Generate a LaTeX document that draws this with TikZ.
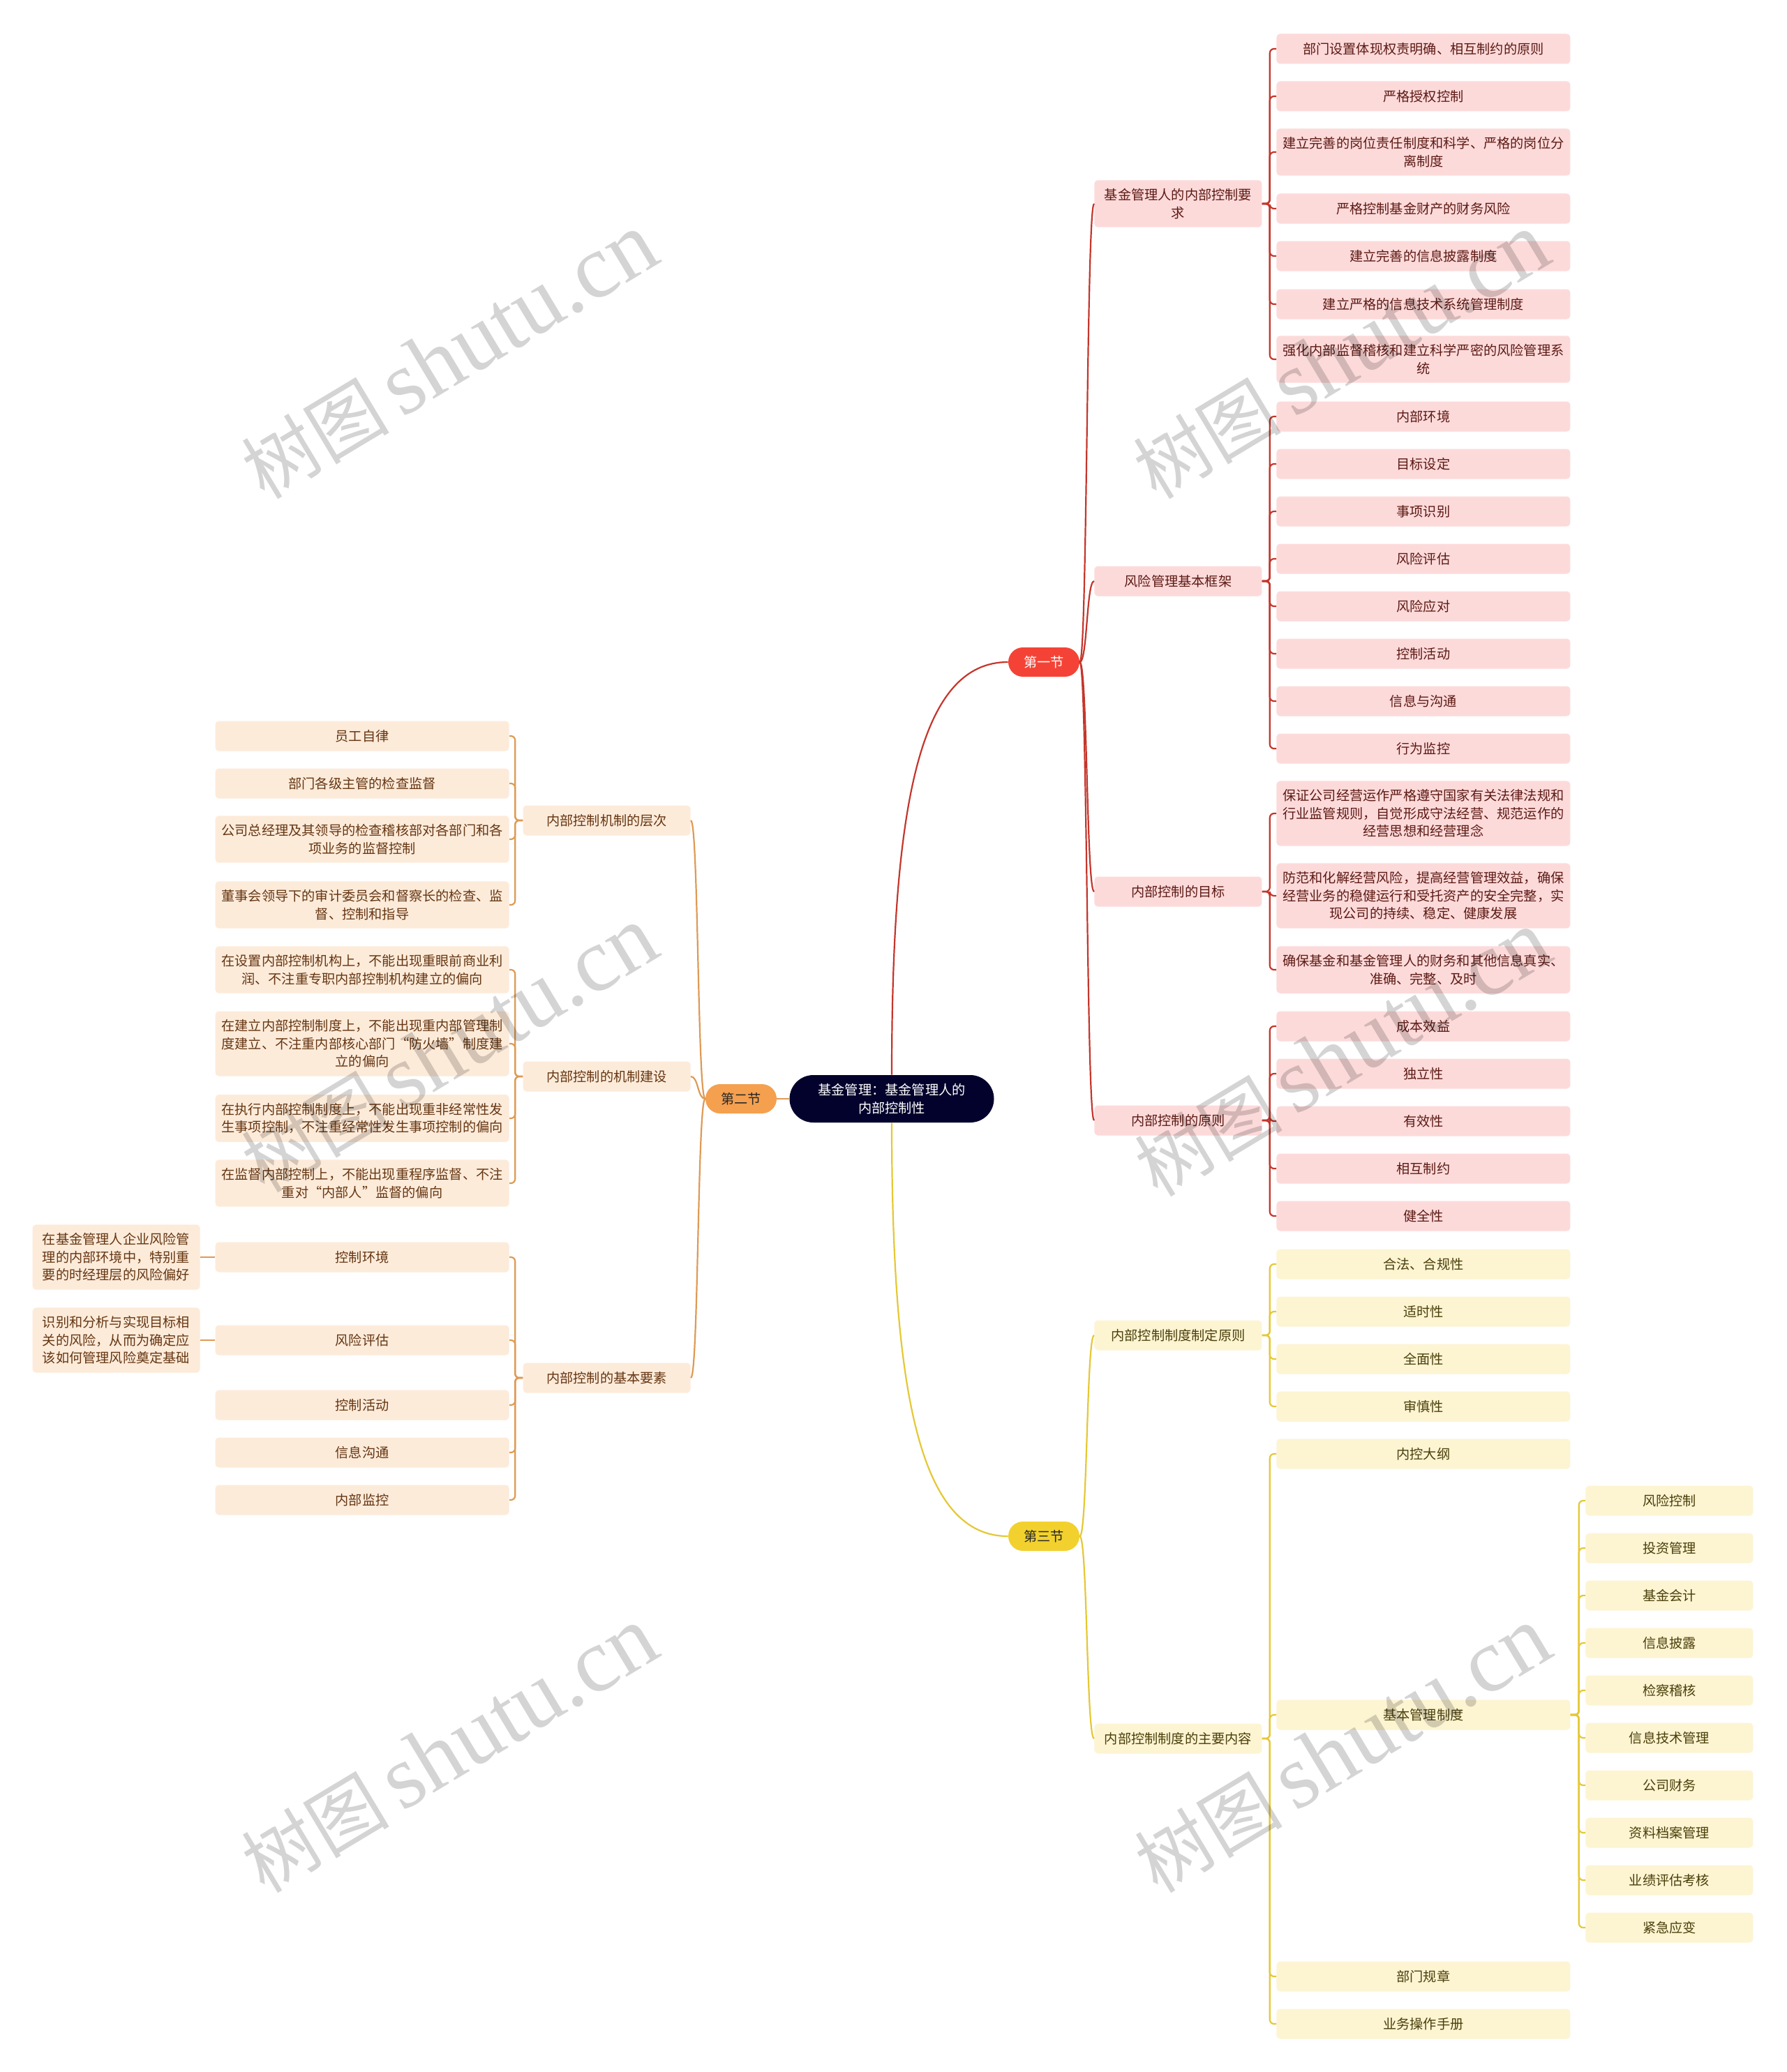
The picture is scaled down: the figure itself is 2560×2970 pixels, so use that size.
\documentclass[tikz,border=0pt]{standalone}
\usepackage{fontspec}
\setmainfont{Noto Sans CJK SC}
\newfontfamily\wmserif{Liberation Serif}
\usetikzlibrary{shapes.misc}
\definecolor{rootfill}{HTML}{02022C}
\definecolor{redfill}{HTML}{F44336}
\definecolor{redline}{HTML}{C4362C}
\definecolor{redbox}{HTML}{FDDADA}
\definecolor{redtext}{HTML}{5C1A14}
\definecolor{orfill}{HTML}{F5A04F}
\definecolor{orline}{HTML}{DE9A55}
\definecolor{orbox}{HTML}{FDEBDA}
\definecolor{ortext}{HTML}{653612}
\definecolor{yefill}{HTML}{F2D12E}
\definecolor{yeline}{HTML}{E5C835}
\definecolor{yebox}{HTML}{FDF4D2}
\definecolor{yetext}{HTML}{4A3F0A}
\tikzset{
  basebox/.style={font=\fontsize{9.6}{12.8}\selectfont, align=center, inner xsep=4pt, inner ysep=6pt, minimum height=21.5pt, rounded corners=2.5pt},
  rbox/.style={basebox, fill=redbox, text=redtext},
  obox/.style={basebox, fill=orbox, text=ortext},
  ybox/.style={basebox, fill=yebox, text=yetext},
  wtwo/.style={minimum width=120pt},
  wleaf/.style={minimum width=210.5pt},
  wfour/.style={minimum width=120pt},
  pill/.style={rounded rectangle, font=\fontsize{9.6}{12.8}\selectfont, align=center, inner xsep=4pt, inner ysep=5pt},
  rootbox/.style={pill, fill=rootfill, text=white, minimum width=154.5pt, minimum height=34pt},
  secbox/.style={pill, minimum width=59pt, minimum height=21pt},
  rl/.style={draw=redline, line width=1.1pt, rounded corners=3pt},
  ol/.style={draw=orline, line width=1.1pt, rounded corners=3pt},
  yl/.style={draw=yeline, line width=1.1pt, rounded corners=3pt},
  wm/.style={text=black, opacity=0.17, inner sep=0pt, font=\fontsize{53}{60}\selectfont, rotate=31}
}
\begin{document}
\begin{tikzpicture}[x=0.5pt,y=-0.5pt]
\useasboundingbox (0,0) rectangle (2560,2970);
\fill[white] (0,0) rectangle (2560,2970);

% root and sections
\node[rootbox] (root) at (1278,1575) {基金管理：基金管理人的\\内部控制性};
\node[secbox, fill=redfill, text=white] (s1) at (1496,949) {第一节};
\node[secbox, fill=orfill, text=black!85] (s2) at (1062,1575) {第二节};
\node[secbox, fill=yefill, text=black!85] (s3) at (1496,2202) {第三节};

% section 1 level 2
\node[rbox,wtwo,anchor=west] (ra) at (1568,292) {基金管理人的内部控制要\\求};
\node[rbox,wtwo,anchor=west] (rb) at (1568,833) {风险管理基本框架};
\node[rbox,wtwo,anchor=west] (rc) at (1568,1278) {内部控制的目标};
\node[rbox,wtwo,anchor=west] (rd) at (1568,1606) {内部控制的原则};

% section 1 leaves
\node[rbox,wleaf,anchor=west] (a1) at (1829,70) {部门设置体现权责明确、相互制约的原则};
\node[rbox,wleaf,anchor=west] (a2) at (1829,138) {严格授权控制};
\node[rbox,wleaf,anchor=west] (a3) at (1829,218) {建立完善的岗位责任制度和科学、严格的岗位分\\离制度};
\node[rbox,wleaf,anchor=west] (a4) at (1829,299) {严格控制基金财产的财务风险};
\node[rbox,wleaf,anchor=west] (a5) at (1829,367) {建立完善的信息披露制度};
\node[rbox,wleaf,anchor=west] (a6) at (1829,436) {建立严格的信息技术系统管理制度};
\node[rbox,wleaf,anchor=west] (a7) at (1829,515) {强化内部监督稽核和建立科学严密的风险管理系\\统};

\node[rbox,wleaf,anchor=west] (b1) at (1829,597) {内部环境};
\node[rbox,wleaf,anchor=west] (b2) at (1829,665) {目标设定};
\node[rbox,wleaf,anchor=west] (b3) at (1829,733) {事项识别};
\node[rbox,wleaf,anchor=west] (b4) at (1829,801) {风险评估};
\node[rbox,wleaf,anchor=west] (b5) at (1829,869) {风险应对};
\node[rbox,wleaf,anchor=west] (b6) at (1829,937) {控制活动};
\node[rbox,wleaf,anchor=west] (b7) at (1829,1005) {信息与沟通};
\node[rbox,wleaf,anchor=west] (b8) at (1829,1073) {行为监控};

\node[rbox,wleaf,anchor=west] (c1) at (1829,1166) {保证公司经营运作严格遵守国家有关法律法规和\\行业监管规则，自觉形成守法经营、规范运作的\\经营思想和经营理念};
\node[rbox,wleaf,anchor=west] (c2) at (1829,1284) {防范和化解经营风险，提高经营管理效益，确保\\经营业务的稳健运行和受托资产的安全完整，实\\现公司的持续、稳定、健康发展};
\node[rbox,wleaf,anchor=west] (c3) at (1829,1390) {确保基金和基金管理人的财务和其他信息真实、\\准确、完整、及时};

\node[rbox,wleaf,anchor=west] (d1) at (1829,1471) {成本效益};
\node[rbox,wleaf,anchor=west] (d2) at (1829,1539) {独立性};
\node[rbox,wleaf,anchor=west] (d3) at (1829,1607) {有效性};
\node[rbox,wleaf,anchor=west] (d4) at (1829,1675) {相互制约};
\node[rbox,wleaf,anchor=west] (d5) at (1829,1743) {健全性};

% section 3
\node[ybox,wtwo,anchor=west] (re) at (1568,1914) {内部控制制度制定原则};
\node[ybox,wtwo,anchor=west] (rf) at (1568,2492) {内部控制制度的主要内容};

\node[ybox,wleaf,anchor=west] (e1) at (1829,1812) {合法、合规性};
\node[ybox,wleaf,anchor=west] (e2) at (1829,1880) {适时性};
\node[ybox,wleaf,anchor=west] (e3) at (1829,1948) {全面性};
\node[ybox,wleaf,anchor=west] (e4) at (1829,2016) {审慎性};

\node[ybox,wleaf,anchor=west] (f1) at (1829,2084) {内控大纲};
\node[ybox,wleaf,anchor=west] (f2) at (1829,2458) {基本管理制度};
\node[ybox,wleaf,anchor=west] (f3) at (1829,2833) {部门规章};
\node[ybox,wleaf,anchor=west] (f4) at (1829,2901) {业务操作手册};

\node[ybox,wfour,anchor=west] (g1) at (2272,2151) {风险控制};
\node[ybox,wfour,anchor=west] (g2) at (2272,2219) {投资管理};
\node[ybox,wfour,anchor=west] (g3) at (2272,2287) {基金会计};
\node[ybox,wfour,anchor=west] (g4) at (2272,2355) {信息披露};
\node[ybox,wfour,anchor=west] (g5) at (2272,2423) {检察稽核};
\node[ybox,wfour,anchor=west] (g6) at (2272,2491) {信息技术管理};
\node[ybox,wfour,anchor=west] (g7) at (2272,2559) {公司财务};
\node[ybox,wfour,anchor=west] (g8) at (2272,2627) {资料档案管理};
\node[ybox,wfour,anchor=west] (g9) at (2272,2695) {业绩评估考核};
\node[ybox,wfour,anchor=west] (g10) at (2272,2763) {紧急应变};

% section 2 (left)
\node[obox,wtwo,anchor=east] (la) at (990,1176) {内部控制机制的层次};
\node[obox,wtwo,anchor=east] (lb) at (990,1543) {内部控制的机制建设};
\node[obox,wtwo,anchor=east] (lc) at (990,1975) {内部控制的基本要素};

\node[obox,wleaf,anchor=east] (h1) at (730,1055) {员工自律};
\node[obox,wleaf,anchor=east] (h2) at (730,1123) {部门各级主管的检查监督};
\node[obox,wleaf,anchor=east] (h3) at (730,1203) {公司总经理及其领导的检查稽核部对各部门和各\\项业务的监督控制};
\node[obox,wleaf,anchor=east] (h4) at (730,1297) {董事会领导下的审计委员会和督察长的检查、监\\督、控制和指导};

\node[obox,wleaf,anchor=east] (i1) at (730,1390) {在设置内部控制机构上，不能出现重眼前商业利\\润、不注重专职内部控制机构建立的偏向};
\node[obox,wleaf,anchor=east] (i2) at (730,1496) {在建立内部控制制度上，不能出现重内部管理制\\度建立、不注重内部核心部门“防火墙”制度建\\立的偏向};
\node[obox,wleaf,anchor=east] (i3) at (730,1603) {在执行内部控制制度上，不能出现重非经常性发\\生事项控制，不注重经常性发生事项控制的偏向};
\node[obox,wleaf,anchor=east] (i4) at (730,1696) {在监督内部控制上，不能出现重程序监督、不注\\重对“内部人”监督的偏向};

\node[obox,wleaf,anchor=east] (j1) at (730,1802) {控制环境};
\node[obox,wleaf,anchor=east] (j2) at (730,1921) {风险评估};
\node[obox,wleaf,anchor=east] (j3) at (730,2014) {控制活动};
\node[obox,wleaf,anchor=east] (j4) at (730,2082) {信息沟通};
\node[obox,wleaf,anchor=east] (j5) at (730,2150) {内部监控};

\node[obox,wfour,anchor=east] (k1) at (287,1802) {在基金管理人企业风险管\\理的内部环境中，特别重\\要的时经理层的风险偏好};
\node[obox,wfour,anchor=east] (k2) at (287,1921) {识别和分析与实现目标相\\关的风险，从而为确定应\\该如何管理风险奠定基础};

% connectors: root to sections
\draw[rl] (root.north) .. controls ([yshift=195.5pt]root.north) and ([xshift=-63pt]s1.west) .. (s1.west);
\draw[yl] (root.south) .. controls ([yshift=-195.5pt]root.south) and ([xshift=-63pt]s3.west) .. (s3.west);
\draw[ol] (root.west) -- (s2.east);

% sections to level 2
\foreach \n in {ra,rb,rc,rd}
  \draw[rl] (s1.east) .. controls ([xshift=5.5pt]s1.east) and ([xshift=-5.5pt]\n.west) .. (\n.west);
\foreach \n in {re,rf}
  \draw[yl] (s3.east) .. controls ([xshift=5.5pt]s3.east) and ([xshift=-5.5pt]\n.west) .. (\n.west);
\foreach \n in {la,lb,lc}
  \draw[ol] (s2.west) .. controls ([xshift=-5.5pt]s2.west) and ([xshift=5.5pt]\n.east) .. (\n.east);

% level 2 to leaves (brackets)
\foreach \n in {a1,a2,a3,a4,a5,a6,a7}
  \draw[rl] (ra.east) -- ++(5.5pt,0) |- (\n.west);
\foreach \n in {b1,b2,b3,b4,b5,b6,b7,b8}
  \draw[rl] (rb.east) -- ++(5.5pt,0) |- (\n.west);
\foreach \n in {c1,c2,c3}
  \draw[rl] (rc.east) -- ++(5.5pt,0) |- (\n.west);
\foreach \n in {d1,d2,d3,d4,d5}
  \draw[rl] (rd.east) -- ++(5.5pt,0) |- (\n.west);
\foreach \n in {e1,e2,e3,e4}
  \draw[yl] (re.east) -- ++(5.5pt,0) |- (\n.west);
\foreach \n in {f1,f2,f3,f4}
  \draw[yl] (rf.east) -- ++(5.5pt,0) |- (\n.west);
\foreach \n in {g1,g2,g3,g4,g5,g6,g7,g8,g9,g10}
  \draw[yl] (f2.east) -- ++(6pt,0) |- (\n.west);
\foreach \n in {h1,h2,h3,h4}
  \draw[ol] (la.west) -- ++(-5.5pt,0) |- (\n.east);
\foreach \n in {i1,i2,i3,i4}
  \draw[ol] (lb.west) -- ++(-5.5pt,0) |- (\n.east);
\foreach \n in {j1,j2,j3,j4,j5}
  \draw[ol] (lc.west) -- ++(-5.5pt,0) |- (\n.east);
\draw[ol] (j1.west) -- (k1.east);
\draw[ol] (j2.west) -- (k2.east);

% watermarks
\foreach \wx/\wy [count=\wi] in {644/511, 1922/511, 644/1505, 1924/1511, 644/2509, 1924/2509}
  \node[wm] (wm\wi) at (\wx,\wy) {树图\,{\wmserif\fontsize{65}{70}\selectfont shutu.cn}};
\end{tikzpicture}
\end{document}
